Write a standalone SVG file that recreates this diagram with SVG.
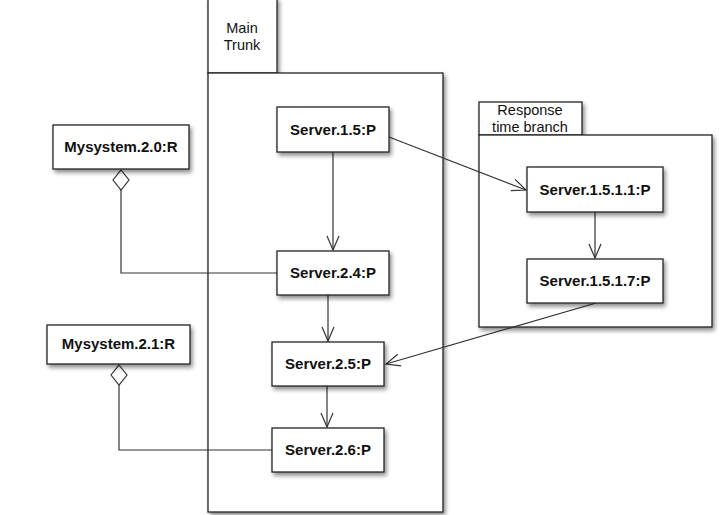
<svg xmlns="http://www.w3.org/2000/svg" width="725" height="515" viewBox="0 0 725 515">
<defs>
<filter id="sh" x="-10%" y="-10%" width="130%" height="140%">
<feDropShadow dx="2" dy="3" stdDeviation="2" flood-color="#000" flood-opacity="0.45"/>
</filter>
<marker id="arr" markerUnits="userSpaceOnUse" markerWidth="16" markerHeight="14" refX="15" refY="7" orient="auto" viewBox="0 0 16 14">
<path d="M1,1 L15,7 L1,13" fill="none" stroke="#333" stroke-width="1.2"/>
</marker>
</defs>
<style>
.box{fill:#fff;stroke:#222;stroke-width:1.3;filter:url(#sh)}
.lbl{font-family:"Liberation Sans",Arial,sans-serif;font-size:15px;font-weight:bold;fill:#111;text-anchor:middle}
.tab{font-family:"Liberation Sans",Arial,sans-serif;font-size:14.5px;fill:#111;text-anchor:middle}
.ln{fill:none;stroke:#333;stroke-width:1.2}
.dia{fill:#fff;stroke:#333;stroke-width:1.2}
</style>
<g id="main-trunk">
<rect class="box" x="208" y="-2" width="69" height="75"/>
<rect class="box" x="208" y="73" width="235" height="439"/>
<text class="tab" x="242" y="33">Main</text>
<text class="tab" x="242" y="50">Trunk</text>
</g>
<g id="response-time-branch">
<rect class="box" x="479" y="102" width="103" height="33"/>
<rect class="box" x="479" y="135" width="233" height="192"/>
<text class="tab" x="530" y="115">Response</text>
<text class="tab" x="530" y="132">time branch</text>
</g>
<g id="connectors">
<line class="ln" x1="333" y1="152" x2="333" y2="250" marker-end="url(#arr)"/>
<line class="ln" x1="389" y1="137" x2="526" y2="190" marker-end="url(#arr)"/>
<line class="ln" x1="595" y1="212" x2="595" y2="258" marker-end="url(#arr)"/>
<line class="ln" x1="596" y1="303" x2="386" y2="364" marker-end="url(#arr)"/>
<line class="ln" x1="328" y1="295" x2="328" y2="341" marker-end="url(#arr)"/>
<line class="ln" x1="327" y1="386" x2="327" y2="427" marker-end="url(#arr)"/>
<polyline class="ln" points="121,190 121,273 277,273"/>
<path class="dia" d="M121,170 L129,180 L121,190 L113,180 Z"/>
<polyline class="ln" points="119,385 119,450 272,450"/>
<path class="dia" d="M119,365 L127,375 L119,385 L111,375 Z"/>
</g>
<g id="mysystem-2-0">
<rect class="box" x="53" y="125" width="136" height="44"/>
<text class="lbl" x="121" y="152">Mysystem.2.0:R</text>
</g>
<g id="mysystem-2-1">
<rect class="box" x="47" y="325" width="143" height="39"/>
<text class="lbl" x="118.5" y="349">Mysystem.2.1:R</text>
</g>
<g id="server-1-5">
<rect class="box" x="277" y="107" width="112" height="45"/>
<text class="lbl" x="333" y="135">Server.1.5:P</text>
</g>
<g id="server-2-4">
<rect class="box" x="277" y="251" width="112" height="44"/>
<text class="lbl" x="333" y="278">Server.2.4:P</text>
</g>
<g id="server-2-5">
<rect class="box" x="272" y="342" width="112" height="44"/>
<text class="lbl" x="328" y="369">Server.2.5:P</text>
</g>
<g id="server-2-6">
<rect class="box" x="272" y="428" width="112" height="44"/>
<text class="lbl" x="328" y="455">Server.2.6:P</text>
</g>
<g id="server-1-5-1-1">
<rect class="box" x="527" y="167" width="136" height="45"/>
<text class="lbl" x="595" y="195">Server.1.5.1.1:P</text>
</g>
<g id="server-1-5-1-7">
<rect class="box" x="527" y="259" width="136" height="44"/>
<text class="lbl" x="595" y="286">Server.1.5.1.7:P</text>
</g>
</svg>
